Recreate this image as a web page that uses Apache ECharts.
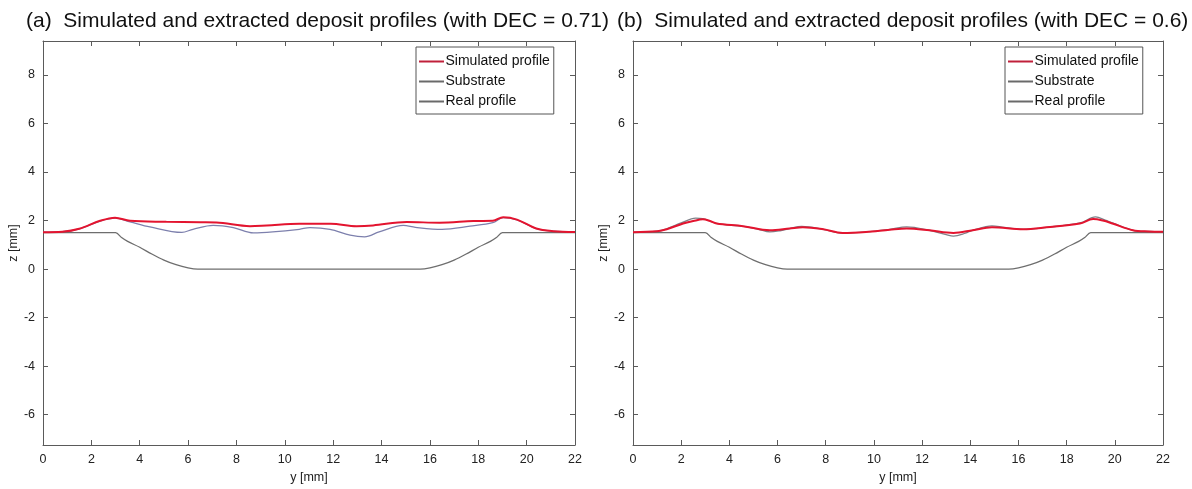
<!DOCTYPE html>
<html>
<head>
<meta charset="utf-8">
<script src="https://cdn.jsdelivr.net/npm/echarts@6/dist/echarts.min.js"></script>
<style>
  html, body { margin: 0; padding: 0; background: #ffffff; }
  #chart { width: 1192px; height: 489px; }
</style>
</head>
<body>
<div id="chart"></div>
<script>
// Deposit cross-section profiles, y [mm] vs z [mm]
const xTicks = [0, 2, 4, 6, 8, 10, 12, 14, 16, 18, 20, 22];
const zTicks = [-6, -4, -2, 0, 2, 4, 6, 8];

// Groove substrate (same for both cases)
const substrateProfile = [
  [0, 1.5], [3, 1.5], [3.25, 1.3], [3.5, 1.14], [4, 0.9], [4.5, 0.62], [5, 0.37],
  [5.5, 0.18], [6, 0.05], [6.4, 0], [15.6, 0], [16, 0.05], [16.5, 0.18], [17, 0.37],
  [17.5, 0.62], [18, 0.9], [18.5, 1.14], [18.75, 1.3], [19, 1.5], [22, 1.5]
];

// Case (a): DEC = 0.71
const simulatedA = [
  [0, 1.52], [0.8, 1.54], [1.5, 1.66], [2.36, 1.99], [2.98, 2.12], [3.6, 1.99],
  [5.1, 1.95], [6.5, 1.93], [7.17, 1.92], [8.56, 1.77], [9.25, 1.8], [10.6, 1.87],
  [11.9, 1.87], [12.97, 1.77], [13.65, 1.8], [15.04, 1.94], [16.4, 1.91], [17.8, 1.98],
  [18.6, 1.99], [19.03, 2.14], [19.6, 2.04], [20.4, 1.67], [21.1, 1.56], [22, 1.53]
];
const realA = [
  [0, 1.52], [0.8, 1.54], [1.5, 1.66], [2.36, 1.98], [2.98, 2.1], [3.6, 1.95],
  [4.42, 1.74], [5.74, 1.51], [6.2, 1.64], [7.04, 1.8], [7.87, 1.71], [8.7, 1.49],
  [9.5, 1.53], [10.6, 1.64], [11.04, 1.71], [11.87, 1.64], [12.7, 1.4], [13.3, 1.33],
  [13.9, 1.53], [14.9, 1.8], [15.4, 1.72], [16.5, 1.64], [17.66, 1.77], [18.6, 1.91],
  [19.03, 2.12], [19.6, 2.03], [20.4, 1.67], [21.1, 1.56], [22, 1.53]
];

// Case (b): DEC = 0.6
const simulatedB = [
  [0, 1.52], [1.0, 1.56], [1.4, 1.64], [2.08, 1.88], [2.5, 1.98], [2.9, 2.05],
  [3.2, 1.98], [3.47, 1.88], [4.57, 1.77], [5.68, 1.6], [6.5, 1.67], [7.05, 1.72],
  [7.9, 1.64], [8.7, 1.49], [9.67, 1.53], [10.66, 1.62], [11.36, 1.67], [12.3, 1.6],
  [13.3, 1.49], [14.1, 1.6], [14.9, 1.72], [16.2, 1.64], [17.17, 1.72], [18.55, 1.88],
  [19.1, 2.06], [19.5, 2.0], [19.9, 1.88], [20.75, 1.6], [21.4, 1.55], [22, 1.54]
];
const realB = [
  [0, 1.52], [1.0, 1.56], [1.4, 1.66], [2.0, 1.9], [2.6, 2.1], [2.9, 2.08],
  [3.47, 1.88], [4.57, 1.76], [5.2, 1.64], [5.68, 1.53], [6.1, 1.58], [6.5, 1.67],
  [7.0, 1.76], [7.9, 1.64], [8.7, 1.48], [9.67, 1.53], [10.66, 1.64], [11.36, 1.74],
  [12.3, 1.6], [13.0, 1.42], [13.3, 1.36], [13.8, 1.48], [14.1, 1.6], [14.9, 1.78],
  [15.4, 1.72], [16.2, 1.64], [17.17, 1.72], [18.55, 1.9], [19.2, 2.15], [19.6, 2.02],
  [19.9, 1.9], [20.75, 1.6], [21.4, 1.55], [22, 1.54]
];

const titles = [
  '(a)  Simulated and extracted deposit profiles (with DEC = 0.71)',
  '(b)  Simulated and extracted deposit profiles (with DEC = 0.6)'
];
const seriesNames = ['Simulated profile', 'Substrate', 'Real profile'];

const FONT = 'Liberation Sans, Arial, sans-serif';
const AXIS_COLOR = '#5a5a5a';
const TEXT_COLOR = '#222';

const grids = [
  { left: 43, top: 41, width: 532, height: 404 },
  { left: 633, top: 41, width: 530, height: 404 }
];

function xAxisPair(gi) {
  const base = {
    type: 'value', gridIndex: gi, min: 0, max: 22, interval: 2,
    splitLine: { show: false },
    axisLine: { show: true, onZero: false, lineStyle: { color: AXIS_COLOR, width: 1 } },
    axisTick: { show: true, inside: true, length: 5, lineStyle: { color: AXIS_COLOR } }
  };
  return [
    Object.assign({}, base, {
      position: 'bottom',
      name: 'y [mm]', nameLocation: 'middle', nameGap: 25,
      nameTextStyle: { fontFamily: FONT, fontSize: 12.5, color: TEXT_COLOR },
      axisLabel: { fontFamily: FONT, fontSize: 12.5, color: TEXT_COLOR, margin: 8 }
    }),
    Object.assign({}, base, { position: 'top', axisLabel: { show: false } })
  ];
}

function yAxisPair(gi) {
  const base = {
    type: 'value', gridIndex: gi, min: -7.25, max: 9.4,
    splitLine: { show: false },
    axisLine: { show: true, onZero: false, lineStyle: { color: AXIS_COLOR, width: 1 } },
    axisTick: { show: true, inside: true, length: 5, customValues: zTicks, lineStyle: { color: AXIS_COLOR } }
  };
  return [
    Object.assign({}, base, {
      position: 'left',
      name: 'z [mm]', nameLocation: 'middle', nameGap: 23, nameRotate: 90,
      nameTextStyle: { fontFamily: FONT, fontSize: 12.5, color: TEXT_COLOR },
      axisLabel: { fontFamily: FONT, fontSize: 12.5, color: TEXT_COLOR, margin: 8, customValues: zTicks }
    }),
    Object.assign({}, base, { position: 'right', axisLabel: { show: false } })
  ];
}

function panelSeries(gi, simulated, real) {
  const ai = gi * 2;
  return [
    {
      name: seriesNames[2], type: 'line', xAxisIndex: ai, yAxisIndex: ai,
      data: real, showSymbol: false, smooth: 0.35, z: 2,
      lineStyle: { color: gi === 0 ? '#7d80ad' : '#7f8088', width: 1.3 },
      itemStyle: { color: '#6a6a6a' }
    },
    {
      name: seriesNames[1], type: 'line', xAxisIndex: ai, yAxisIndex: ai,
      data: substrateProfile, showSymbol: false, smooth: 0.3, z: 2,
      lineStyle: { color: '#6e6e6e', width: 1.3 },
      itemStyle: { color: '#6a6a6a' }
    },
    {
      name: seriesNames[0], type: 'line', xAxisIndex: ai, yAxisIndex: ai,
      data: simulated, showSymbol: false, smooth: 0.35, z: 3,
      lineStyle: { color: '#e3142f', width: 2 },
      itemStyle: { color: '#c0203a' }
    }
  ];
}

function legendFor(left) {
  return {
    orient: 'vertical', left: left, top: 47,
    data: seriesNames.map(n => ({ name: n, icon: 'path://M0,0 L1,0 L1,0.08 L0,0.08 Z' })),
    itemWidth: 28, itemHeight: 2, itemGap: 5,
    padding: [7, 4, 5, 3],
    borderColor: '#555', borderWidth: 1, backgroundColor: '#fff',
    textStyle: { fontFamily: FONT, fontSize: 14, color: '#111', padding: [0, 0, 0, -5], lineHeight: 15 },
    selectedMode: false
  };
}

const option = {
  backgroundColor: '#ffffff',
  animation: false,
  title: [
    { text: titles[0], left: 21, top: 6, textStyle: { fontFamily: FONT, fontSize: 21, fontWeight: 'normal', color: '#111' } },
    { text: titles[1], left: 612, top: 6, textStyle: { fontFamily: FONT, fontSize: 21, fontWeight: 'normal', color: '#111' } }
  ],
  legend: [legendFor(416), legendFor(1005)],
  grid: grids,
  xAxis: xAxisPair(0).concat(xAxisPair(1)),
  yAxis: yAxisPair(0).concat(yAxisPair(1)),
  series: panelSeries(0, simulatedA, realA).concat(panelSeries(1, simulatedB, realB))
};

const chart = echarts.init(document.getElementById('chart'), null, { renderer: 'canvas' });
chart.setOption(option);
</script>
</body>
</html>
